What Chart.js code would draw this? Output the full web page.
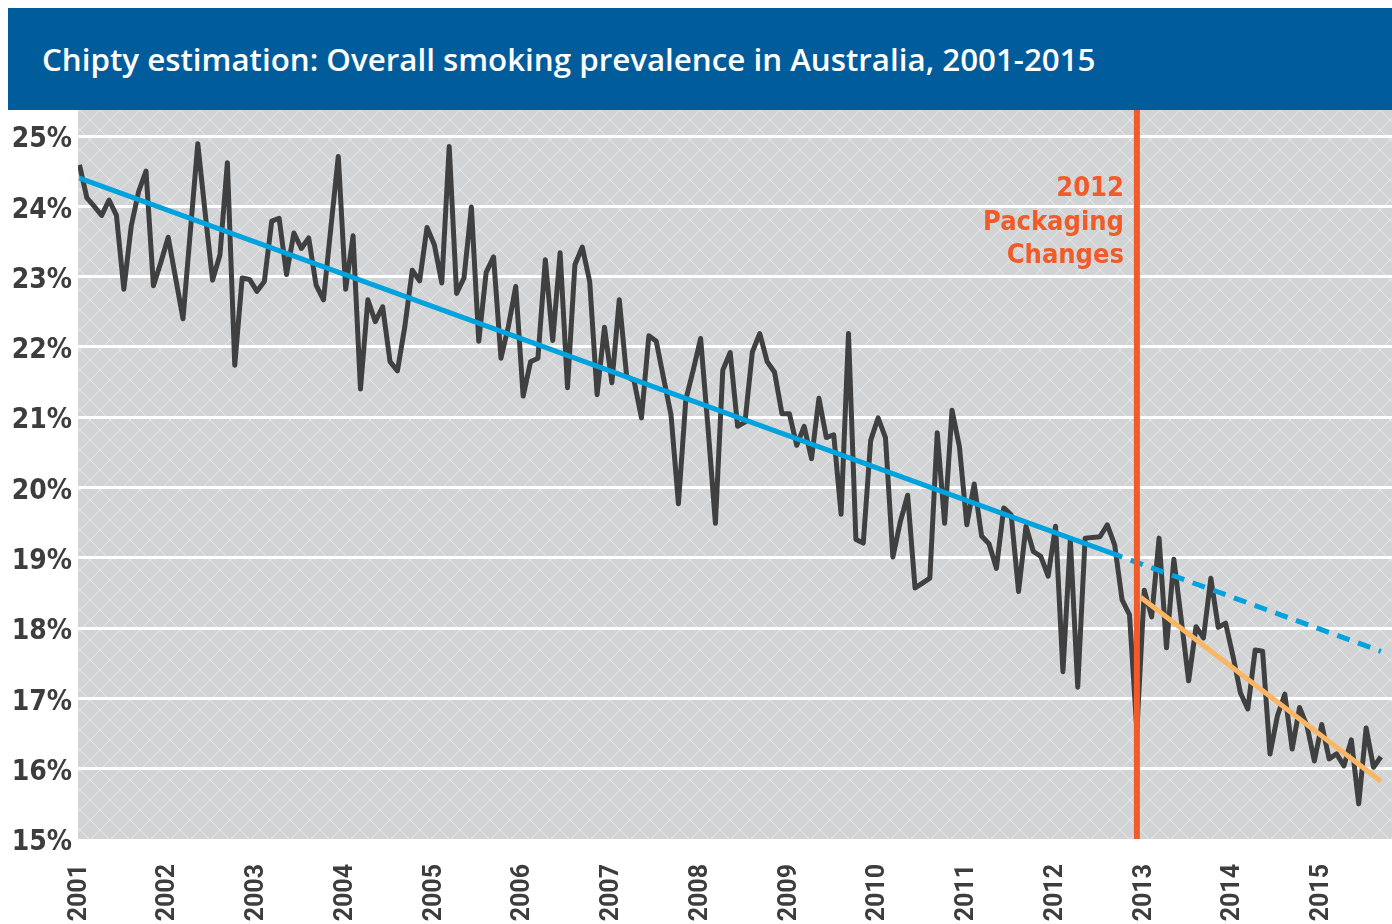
<!DOCTYPE html>
<html lang="en">
<head>
<meta charset="UTF-8">
<title>Chipty estimation: Overall smoking prevalence in Australia, 2001-2015</title>
<script src="https://cdn.jsdelivr.net/npm/chart.js"></script>
<style>
  body { margin: 0; background: #fff; width: 1392px; height: 924px; overflow: hidden; position: relative; }
  #title { position: absolute; left: 8px; top: 8px; width: 1384px; height: 102px; box-sizing: border-box; padding-left: 34px;
           background: #015c9c; color: #fff; font: 600 31.3px "Open Sans", sans-serif; line-height: 102px; white-space: nowrap; }
  #wrap { position: absolute; left: 0; top: 110px; width: 1392px; height: 814px; }
</style>
</head>
<body>
  <div id="title">Chipty estimation: Overall smoking prevalence in Australia, 2001-2015</div>
  <div id="wrap"><canvas id="smoking" width="1392" height="814"></canvas></div>

<script>
  // tick labels
  const years = ['2001','2002','2003','2004','2005','2006','2007','2008','2009','2010','2011','2012','2013','2014','2015'];
  const yTicks = [15, 16, 17, 18, 19, 20, 21, 22, 23, 24, 25];

  // monthly prevalence (%), Jan 2001 onwards
  const prevalence = [
    24.59, 24.12, 24.00, 23.87, 24.09, 23.87, 22.82, 23.72, 24.21, 24.50, 22.87, 23.20,
    23.56, 22.98, 22.40, 23.65, 24.89, 23.90, 22.95, 23.31, 24.62, 21.74, 22.98, 22.96,
    22.79, 22.93, 23.79, 23.83, 23.03, 23.62, 23.40, 23.55, 22.88, 22.67, 23.70, 24.71,
    22.82, 23.58, 21.40, 22.67, 22.36, 22.57, 21.79, 21.66, 22.29, 23.09, 22.94, 23.70,
    23.45, 22.91, 24.85, 22.76, 22.98, 23.99, 22.08, 23.06, 23.28, 21.84, 22.29, 22.86,
    21.30, 21.79, 21.84, 23.24, 22.09, 23.34, 21.42, 23.17, 23.42, 22.93, 21.32, 22.28,
    21.49, 22.67, 21.58, 21.52, 20.99, 22.16, 22.08, 21.55, 21.03, 19.77, 21.25, 21.67,
    22.12, 20.85, 19.49, 21.67, 21.92, 20.87, 20.93, 21.93, 22.19, 21.79, 21.64, 21.05,
    21.05, 20.60, 20.87, 20.41, 21.27, 20.71, 20.75, 19.62, 22.19, 19.26, 19.21, 20.67,
    20.99, 20.71, 19.01, 19.51, 19.89, 18.57, 18.64, 18.71, 20.78, 19.49, 21.10, 20.58,
    19.47, 20.05, 19.31, 19.20, 18.85, 19.71, 19.61, 18.52, 19.45, 19.09, 19.02, 18.74,
    19.45, 17.38, 19.26, 17.16, 19.28, 19.29, 19.30, 19.47, 19.18, 18.40, 18.19, 16.54,
    18.54, 18.16, 19.28, 17.72, 18.98, 18.12, 17.25, 18.02, 17.86, 18.71, 18.01, 18.07,
    17.60, 17.08, 16.85, 17.69, 17.67, 16.21, 16.75, 17.06, 16.28, 16.87, 16.61, 16.11,
    16.63, 16.14, 16.21, 16.04, 16.41, 15.50, 16.58, 16.02, 16.17
  ];

  // pre-change trend: solid to the split month, dashed projection after
  const trendMonths = [0, 140.5, 176];
  const trendValues = [24.40, 19.03, 17.67];
  // post-change trend
  const postMonths = [143.5, 176];
  const postValues = [18.44, 15.82];

  const packagingMonth = 143; // Dec 2012
  const packagingLabel = ['2012', 'Packaging', 'Changes'];

  const DARK = '#404040', BLUE = '#00a3dd', RED = '#f15a29', ORANGE = '#fbb663';

  function hatch() {
    const c = document.createElement('canvas');
    c.width = 20; c.height = 20;
    const g = c.getContext('2d');
    g.fillStyle = '#d2d3d5';
    g.fillRect(0, 0, 20, 20);
    g.strokeStyle = 'rgba(255,255,255,0.45)';
    g.lineWidth = 1;
    g.beginPath();
    g.moveTo(0, 0); g.lineTo(20, 20);
    g.moveTo(20, 0); g.lineTo(0, 20);
    g.stroke();
    return g.createPattern(c, 'repeat');
  }

  const background = {
    id: 'background',
    beforeDraw(chart) {
      const { ctx, chartArea: a } = chart;
      ctx.save();
      ctx.fillStyle = hatch();
      ctx.fillRect(a.left, a.top, a.right - a.left, a.bottom - a.top);
      ctx.restore();
    },
    afterDatasetsDraw(chart) {
      const { ctx, chartArea: a } = chart;
      const x = chart.scales.x.getPixelForValue(packagingMonth) - 13;
      ctx.save();
      ctx.font = 'bold 27px "DejaVu Sans Condensed", "DejaVu Sans", sans-serif';
      ctx.fillStyle = RED;
      ctx.textAlign = 'right';
      ctx.textBaseline = 'middle';
      packagingLabel.forEach((t, i) => ctx.fillText(t, x, a.top + 79 + i * 33.5));
      ctx.restore();
    }
  };

  const pts = (xs, ys) => xs.map((x, i) => ({ x, y: ys[i] }));
  const noPad = s => { s.paddingTop = 0; s.paddingBottom = 0; s.paddingLeft = 0; s.paddingRight = 0; };

  new Chart(document.getElementById('smoking'), {
    type: 'line',
    data: {
      datasets: [
        { data: [{ x: packagingMonth, y: 15 }, { x: packagingMonth, y: 26 }], borderColor: RED, borderWidth: 6 },
        { data: pts(postMonths, postValues), borderColor: ORANGE, borderWidth: 5 },
        { data: pts(trendMonths.slice(0, 2), trendValues.slice(0, 2)), borderColor: BLUE, borderWidth: 5 },
        { data: pts(trendMonths.slice(1), trendValues.slice(1)), borderColor: BLUE, borderWidth: 5, borderDash: [13, 9], borderDashOffset: 9 },
        { data: prevalence.map((v, i) => ({ x: i, y: v })), borderColor: DARK, borderWidth: 5, borderJoinStyle: 'round' }
      ]
    },
    options: {
      responsive: false,
      animation: false,
      layout: { padding: 0 },
      elements: { point: { radius: 0 }, line: { tension: 0, fill: false } },
      plugins: { legend: { display: false }, tooltip: { enabled: false } },
      scales: {
        x: {
          type: 'linear', min: -0.2, max: 177.5,
          grid: { display: false },
          border: { display: false },
          afterBuildTicks: s => { s.ticks = years.map((_, i) => ({ value: i * 12 })); },
          afterFit: s => { s.height = 85; noPad(s); },
          ticks: {
            autoSkip: false, minRotation: 90, maxRotation: 90, padding: 17,
            color: '#3d3d3d', font: { family: 'Roboto', weight: 'bold', size: 25 },
            callback: v => years[Math.round(v / 12)]
          }
        },
        y: {
          min: 15, max: 25.37,
          border: { display: false },
          grid: { color: c => c.tick && c.tick.value === 15 ? 'rgba(0,0,0,0)' : '#ffffff', lineWidth: 3, drawTicks: false },
          afterBuildTicks: s => { s.ticks = yTicks.map(v => ({ value: v })); },
          afterFit: s => { s.width = 78; noPad(s); },
          ticks: {
            padding: 6, labelOffset: 4, color: '#3d3d3d',
            font: { family: '"DejaVu Sans Condensed", "DejaVu Sans", sans-serif', weight: 'bold', size: 28 },
            callback: v => v + '%'
          }
        }
      }
    },
    plugins: [background]
  });
</script>
</body>
</html>
